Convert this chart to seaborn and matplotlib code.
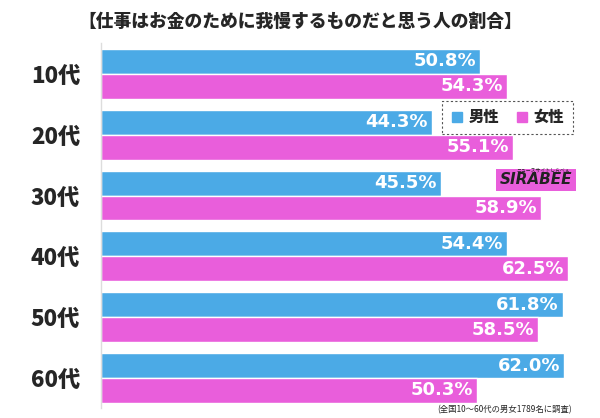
import pandas as pd
import seaborn as sns
import matplotlib.pyplot as plt
from matplotlib.lines import Line2D

# data
ages = ['10代', '20代', '30代', '40代', '50代', '60代']
male = [50.8, 44.3, 45.5, 54.4, 61.8, 62.0]
female = [54.3, 55.1, 58.9, 62.5, 58.5, 50.3]
sexes = ['男性', '女性']
title = '【仕事はお金のために我慢するものだと思う人の割合】'
note = '(全国10～60代の男女1789名に調査)'

blue = '#4baae6'
pink = '#e95edb'

df = pd.DataFrame({
    'age': ages * 2,
    'sex': [sexes[0]] * len(ages) + [sexes[1]] * len(ages),
    'value': male + female,
})

sns.set_style('white')
plt.rcParams['font.family'] = ['Noto Sans CJK JP', 'DejaVu Sans']

fig = plt.figure(figsize=(6, 4.18), dpi=100)
ax = fig.add_axes([101 / 600, 0.023, 478 / 600, 0.873])

sns.barplot(data=df, y='age', x='value', hue='sex', orient='h',
            palette=[blue, pink], saturation=1, width=0.82, ax=ax, legend=False)

ax.set_xlim(0, 64)
ax.set_ylim(5.5, -0.5)
ax.set_xlabel('')
ax.set_ylabel('')
ax.set_xticks([])
ax.tick_params(axis='y', length=0, pad=15)
for lbl in ax.get_yticklabels():
    lbl.set_fontsize(16)
    lbl.set_fontweight('black')
for s in ['top', 'right', 'bottom']:
    ax.spines[s].set_visible(False)
ax.spines['left'].set_color('#dddddd')
ax.spines['left'].set_linewidth(1)

# value labels inside the bars
for cont in ax.containers:
    for bar in cont:
        w = bar.get_width()
        ax.text(w - 0.5, bar.get_y() + bar.get_height() / 2, f'{w:.1f}%',
                ha='right', va='center', color='white', fontsize=13,
                fontweight='bold', family=['DejaVu Sans'])

fig.text(0.5, 1 - 22 / 418, title, ha='center', va='center',
         fontsize=12.8, fontweight='black')

handles = [Line2D([], [], marker='s', linestyle='', color=c, markersize=6.5)
           for c in [blue, pink]]
leg = fig.legend(handles, sexes, loc='upper right',
                 bbox_to_anchor=(573 / 600, 1 - 101 / 418), ncol=2,
                 prop={'weight': 'black', 'size': 11}, handlelength=0.8,
                 handletextpad=0.35, columnspacing=1.1, borderpad=0.6,
                 borderaxespad=0, fancybox=False, framealpha=1)
leg.get_frame().set_linestyle((0, (2, 2)))
leg.get_frame().set_edgecolor('#555555')
leg.get_frame().set_linewidth(0.8)

# SIRABEE logo
fig.text(572 / 600, 1 - 180 / 418, 'SIRABEE', ha='right', va='center',
         fontsize=11, fontweight='bold', style='italic', color='#222222',
         family=['DejaVu Sans'],
         bbox=dict(boxstyle='square,pad=0.25', fc=pink, ec='none'))
fig.text(570 / 600, 1 - 170 / 418, 'ニュースサイトしらべぇ', ha='right',
         va='center', fontsize=3.5, color='#222222')

fig.text(572 / 600, 1 - 410 / 418, note, ha='right', va='center', fontsize=6)

fig.savefig('out.png', dpi=100)
